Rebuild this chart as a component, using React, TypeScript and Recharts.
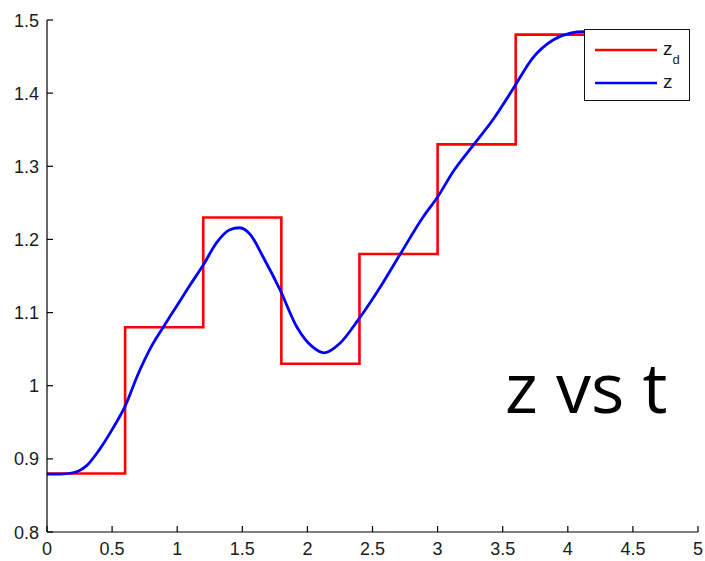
import { Legend, Line, LineChart, XAxis, YAxis } from "recharts";

// z_d: piecewise-constant reference
const stepTimes = [0, 0.6, 1.2, 1.8, 2.4, 3.0, 3.6, 4.2];
const stepLevels = [0.88, 1.08, 1.23, 1.03, 1.18, 1.33, 1.48, 1.48];

// z: response
const zTimes = [
  0, 0.1, 0.2, 0.25, 0.3, 0.4, 0.5, 0.6, 0.7, 0.8, 0.9, 1.0, 1.1, 1.2, 1.3, 1.4,
  1.48, 1.56, 1.66, 1.79, 1.92, 2.04, 2.13, 2.25, 2.39, 2.56, 2.71, 2.89, 3.0,
  3.12, 3.27, 3.43, 3.58, 3.73, 3.89, 4.02, 4.12, 4.2,
];
const zValues = [
  0.879, 0.879, 0.881, 0.884, 0.89, 0.912, 0.94, 0.972, 1.016, 1.053, 1.082,
  1.11, 1.138, 1.165, 1.195, 1.213, 1.216, 1.207, 1.176, 1.131, 1.08, 1.053,
  1.045, 1.058, 1.09, 1.135, 1.179, 1.231, 1.258, 1.293, 1.328, 1.365, 1.406,
  1.448, 1.473, 1.482, 1.484, 1.484,
];

const xTicks = [0, 0.5, 1, 1.5, 2, 2.5, 3, 3.5, 4, 4.5, 5];
const yTicks = [0.8, 0.9, 1.0, 1.1, 1.2, 1.3, 1.4, 1.5];
const legendOrder = ["zd", "z"];

const stepData = stepTimes.map((t, i) => ({ t, zd: stepLevels[i] }));
const zData = zTimes.map((t, i) => ({ t, z: zValues[i] }));

const fmt = (v: number) => String(Number(v.toFixed(1)));
const tickFont = { fontFamily: "'Liberation Sans', Arial, sans-serif", fontSize: 18, fill: "#1a1a1a" };

function XTick(props: any) {
  const { x, y, payload } = props;
  return (
    <g>
      <line x1={x} x2={x} y1={y} y2={y - 6} stroke="#000" strokeWidth={1.2} />
      <text x={x} y={y + 23} textAnchor="middle" {...tickFont}>
        {fmt(payload.value)}
      </text>
    </g>
  );
}

function YTick(props: any) {
  const { x, y, payload } = props;
  return (
    <g>
      <line x1={x} x2={x + 6} y1={y} y2={y} stroke="#000" strokeWidth={1.2} />
      <text x={x - 8} y={y + 6.5} textAnchor="end" {...tickFont}>
        {fmt(payload.value)}
      </text>
    </g>
  );
}

function LegendBox({ payload }: any) {
  const items = [...(payload ?? [])].sort(
    (a: any, b: any) => legendOrder.indexOf(a.value) - legendOrder.indexOf(b.value)
  );
  return (
    <svg width={106} height={72} style={{ display: "block" }}>
      <rect x={0.5} y={0.5} width={105} height={71} fill="#fff" stroke="#111" />
      {items.map((p: any, i: number) => {
        const ly = 21 + i * 33;
        return (
          <g key={p.value}>
            <line x1={11} x2={73} y1={ly} y2={ly} stroke={p.color} strokeWidth={2.5} />
            <text x={79} y={ly + 5} fontFamily="'Liberation Sans', Arial, sans-serif" fontSize={19} fill="#1a1a1a">
              z
              {p.value === "zd" && (
                <tspan fontSize={13} dy={9}>
                  d
                </tspan>
              )}
            </text>
          </g>
        );
      })}
    </svg>
  );
}

export default function App() {
  return (
    <div style={{ position: "absolute", left: 0, top: 0, width: 705, height: 561, background: "#fff" }}>
      <LineChart width={705} height={561} margin={{ top: 20, right: 7, left: 0, bottom: 0 }}>
        <XAxis
          dataKey="t"
          type="number"
          domain={[0, 5]}
          ticks={xTicks}
          interval={0}
          height={29}
          tickSize={0}
          tickMargin={0}
          axisLine={{ stroke: "#000", strokeWidth: 1.2 }}
          tick={<XTick />}
          allowDuplicatedCategory={false}
        />
        <YAxis
          type="number"
          domain={[0.8, 1.5]}
          ticks={yTicks}
          interval={0}
          width={47}
          tickSize={0}
          tickMargin={0}
          axisLine={{ stroke: "#000", strokeWidth: 1.2 }}
          tick={<YTick />}
          allowDataOverflow
        />
        <Line
          data={stepData}
          dataKey="zd"
          name="zd"
          type="stepAfter"
          stroke="#ff0000"
          strokeWidth={2.6}
          dot={false}
          isAnimationActive={false}
        />
        <Line
          data={zData}
          dataKey="z"
          name="z"
          type="monotone"
          stroke="#0000ff"
          strokeWidth={2.8}
          dot={false}
          isAnimationActive={false}
        />
        <Legend
          layout="vertical"
          align="center"
          verticalAlign="middle"
          content={<LegendBox />}
          wrapperStyle={{ left: 584, top: 29, width: 106, height: 72 }}
        />
      </LineChart>
      <svg
        width={705}
        height={561}
        style={{ position: "absolute", left: 0, top: 0, pointerEvents: "none" }}
      >
        <text x={505} y={413} fontFamily="'Open Sans', sans-serif" fontSize={70} fill="#000">
          z vs t
        </text>
      </svg>
    </div>
  );
}
